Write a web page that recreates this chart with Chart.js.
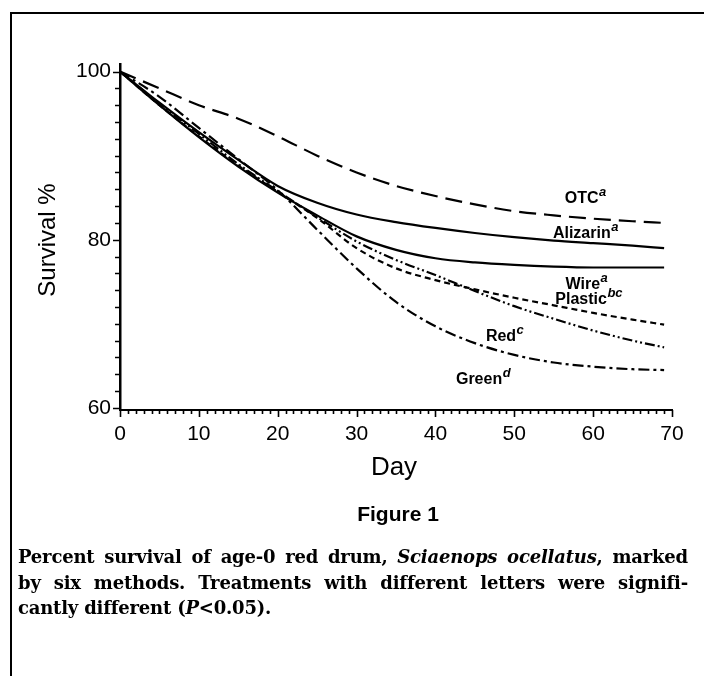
<!DOCTYPE html>
<html>
<head>
<meta charset="utf-8">
<script src="https://cdn.jsdelivr.net/npm/chart.js@4"></script>
<style>
  html, body { margin: 0; padding: 0; background: #fff; }
  body { width: 704px; height: 676px; position: relative; overflow: hidden; }
  .frame { position: absolute; left: 10px; top: 12px; width: 720px; height: 700px;
    border-left: 2px solid #000; border-top: 2px solid #000; }
  #chart { position: absolute; left: 0; top: 0; }
  .fig-title { position: absolute; left: 0; width: 796px; top: 502px; text-align: center;
    font: bold 21px "Liberation Sans", Arial, sans-serif; color: #000; }
  .caption { position: absolute; left: 18px; top: 544px; width: 670px;
    font: bold 18px "DejaVu Serif", serif; color: #000; line-height: 25.5px; letter-spacing: -0.2px; }
  .caption div { white-space: nowrap; }
  .caption .j { text-align: justify; text-align-last: justify; white-space: normal; }
</style>
</head>
<body>
<div class="frame"></div>
<canvas id="chart" width="704" height="676"></canvas>
<div class="fig-title">Figure 1</div>
<div class="caption">
  <div class="j">Percent survival of age-0 red drum, <i>Sciaenops ocellatus</i>, marked</div>
  <div class="j">by six methods. Treatments with different letters were signifi-</div>
  <div>cantly different (<i>P</i>&lt;0.05).</div>
</div>
<script>
const days     = [0, 5, 10, 15, 20, 25, 30, 35, 40, 45, 50, 55, 60, 65, 69];
const otc      = [100, 98.0, 96.0, 94.4, 92.3, 90.0, 88.0, 86.4, 85.2, 84.2, 83.4, 82.9, 82.5, 82.2, 82.0];
const alizarin = [100, 96.3, 92.8, 89.5, 86.4, 84.4, 83.0, 82.1, 81.4, 80.8, 80.3, 79.9, 79.6, 79.3, 79.0];
const wire     = [100, 96.0, 92.2, 88.7, 85.6, 82.9, 80.4, 78.8, 77.8, 77.3, 77.0, 76.8, 76.7, 76.7, 76.7];
const plastic  = [100, 96.0, 92.3, 88.8, 85.7, 82.6, 79.0, 76.6, 75.2, 74.1, 73.1, 72.2, 71.3, 70.5, 69.9];
const red      = [100, 96.2, 92.6, 89.0, 85.8, 82.7, 79.8, 77.6, 75.8, 73.9, 72.1, 70.6, 69.2, 68.0, 67.2];
const green    = [100, 97.0, 93.3, 89.6, 85.9, 81.2, 76.6, 72.6, 69.7, 67.7, 66.3, 65.4, 64.9, 64.6, 64.5];

const xTicks = [0, 10, 20, 30, 40, 50, 60, 70];
const yTicks = [60, 80, 100];

// curve labels: name, superscript, anchored in data units (left / baseline)
const curveLabels = [
  { text: 'OTC', sup: 'a', x: 56.4, y: 84.4 },
  { text: 'Alizarin', sup: 'a', x: 54.9, y: 80.2 },
  { text: 'Wire', sup: 'a', x: 56.5, y: 74.2 },
  { text: 'Plastic', sup: 'bc', x: 55.2, y: 72.3 },
  { text: 'Red', sup: 'c', x: 46.4, y: 68.0 },
  { text: 'Green', sup: 'd', x: 42.6, y: 62.8 }
];

const SANS = '"Liberation Sans", Arial, sans-serif';

const series = [
  { name: 'OTC', values: otc, dash: [17, 8] },
  { name: 'Alizarin', values: alizarin, dash: [] },
  { name: 'Wire', values: wire, dash: [] },
  { name: 'Plastic', values: plastic, dash: [6, 4] },
  { name: 'Red', values: red, dash: [10, 3, 2, 3, 2, 3] },
  { name: 'Green', values: green, dash: [11, 4, 3, 4] }
];

const decorPlugin = {
  id: 'decor',
  afterDraw(chart) {
    const { ctx, chartArea } = chart;
    const xs = chart.scales.x, ys = chart.scales.y;
    ctx.save();
    ctx.strokeStyle = '#000';
    ctx.lineWidth = 1.6;
    // minor / major tick marks, pointing outward
    ctx.beginPath();
    for (let d = 0; d <= 70; d++) {
      const px = Math.round(xs.getPixelForValue(d)) + 0.5;
      const len = d % 10 === 0 ? 7 : 4;
      ctx.moveTo(px, chartArea.bottom);
      ctx.lineTo(px, chartArea.bottom + len);
    }
    for (let v = 60; v <= 100; v += 2) {
      const py = Math.round(ys.getPixelForValue(v)) + 0.5;
      const len = v % 20 === 0 ? 7 : 5;
      ctx.moveTo(chartArea.left, py);
      ctx.lineTo(chartArea.left - len, py);
    }
    ctx.stroke();

    // axis titles
    ctx.fillStyle = '#000';
    ctx.font = '26px ' + SANS;
    ctx.textAlign = 'center';
    ctx.textBaseline = 'middle';
    ctx.fillText('Day', (chartArea.left + chartArea.right) / 2 - 2, 468);
    ctx.save();
    ctx.translate(48, (chartArea.top + chartArea.bottom) / 2 + 3);
    ctx.rotate(-Math.PI / 2);
    ctx.font = '24px ' + SANS;
    ctx.fillText('Survival %', 0, 0);
    ctx.restore();

    // curve labels with italic superscripts
    ctx.textAlign = 'left';
    ctx.textBaseline = 'alphabetic';
    curveLabels.forEach(l => {
      const px = xs.getPixelForValue(l.x);
      const py = ys.getPixelForValue(l.y);
      ctx.font = 'bold 16px ' + SANS;
      ctx.fillText(l.text, px, py);
      const w = ctx.measureText(l.text).width;
      ctx.font = 'italic bold 13px ' + SANS;
      ctx.fillText(l.sup, px + w + 0.5, py - 7);
    });
    ctx.restore();
  }
};

new Chart(document.getElementById('chart'), {
  type: 'line',
  data: {
    datasets: series.map(s => ({
      label: s.name,
      data: days.map((d, i) => ({ x: d, y: s.values[i] })),
      borderColor: '#000',
      borderWidth: 2.2,
      borderDash: s.dash,
      pointRadius: 0,
      fill: false,
      cubicInterpolationMode: 'monotone'
    }))
  },
  options: {
    responsive: false,
    animation: false,
    devicePixelRatio: 1,
    layout: { padding: { left: 0, top: 64, right: 32, bottom: 226 } },
    plugins: { legend: { display: false }, tooltip: { enabled: false } },
    scales: {
      x: {
        type: 'linear', min: 0, max: 70,
        afterFit: s => { s.height = 40; },
        afterBuildTicks: s => { s.ticks = xTicks.map(v => ({ value: v })); },
        ticks: { color: '#000', font: { family: SANS, size: 21 }, padding: 12, maxRotation: 0 },
        grid: { display: false, drawTicks: false },
        border: { display: true, color: '#000', width: 2 }
      },
      y: {
        min: 59.75, max: 100.9,
        afterFit: s => { s.width = 120; },
        afterBuildTicks: s => { s.ticks = yTicks.map(v => ({ value: v })); },
        ticks: { color: '#000', font: { family: SANS, size: 21 }, padding: 9 },
        grid: { display: false, drawTicks: false },
        border: { display: true, color: '#000', width: 2.5 }
      }
    }
  },
  plugins: [decorPlugin]
});
</script>
</body>
</html>
